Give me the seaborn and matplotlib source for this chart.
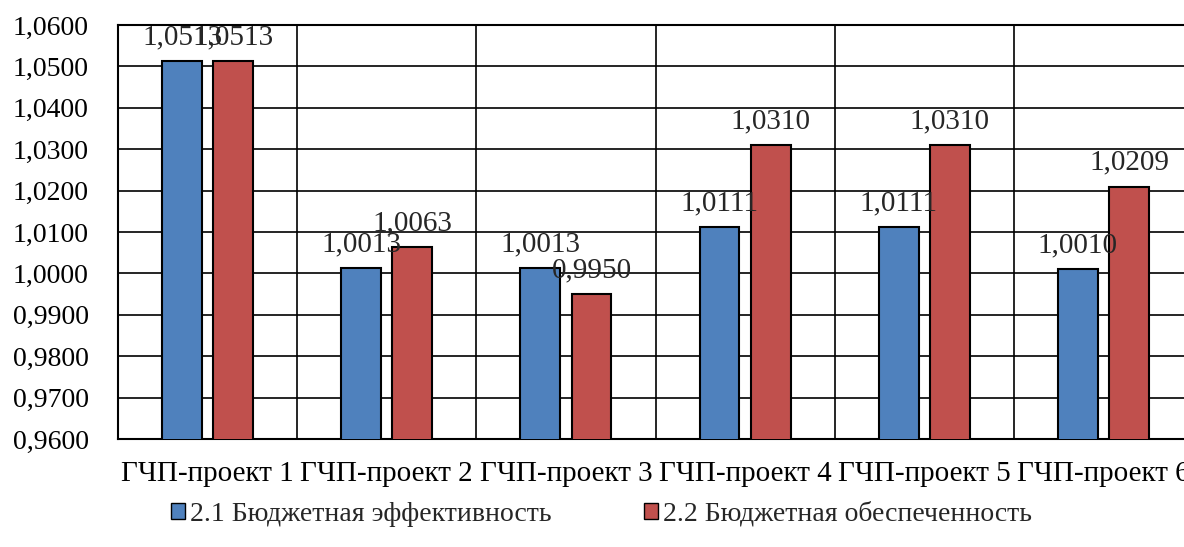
import matplotlib
matplotlib.use('Agg')

import matplotlib.pyplot as plt
import seaborn as sns
import pandas as pd
from matplotlib.patches import Patch

projects = ['ГЧП-проект 1', 'ГЧП-проект 2', 'ГЧП-проект 3',
            'ГЧП-проект 4', 'ГЧП-проект 5', 'ГЧП-проект 6']
series_names = ['2.1 Бюджетная эффективность', '2.2 Бюджетная обеспеченность']
efficiency = [1.0513, 1.0013, 1.0013, 1.0111, 1.0111, 1.0010]
provision = [1.0513, 1.0063, 0.9950, 1.0310, 1.0310, 1.0209]
colors = ['#4F81BD', '#C0504D']

# long format for seaborn
df = pd.DataFrame({
    'Project': projects * 2,
    'Series': [series_names[0]] * len(projects) + [series_names[1]] * len(projects),
    'Value': efficiency + provision,
})

sns.set_style('white')
plt.rcParams['font.family'] = ['Liberation Serif', 'DejaVu Serif']

fig = plt.figure(figsize=(11.84, 5.47), dpi=100)
# plot area runs a bit past the right edge, as in the cropped original
ax = fig.add_axes([118 / 1184, 108 / 547, 1075 / 1184, 414 / 547])

sns.barplot(data=df, x='Project', y='Value', hue='Series', palette=colors,
            saturation=1, width=0.57, gap=0.22, edgecolor='black', linewidth=1.5,
            legend=False, ax=ax, zorder=3)

ax.set_ylim(0.96, 1.06)
ax.set_xlim(-0.5, 5.5)
ax.set_yticks([0.96 + 0.01 * i for i in range(11)])
ax.set_yticklabels([f'{0.96 + 0.01 * i:.4f}'.replace('.', ',') for i in range(11)])
ax.set_xticks(range(len(projects)))
ax.set_xticklabels(projects)
ax.set_xticks([i + 0.5 for i in range(-1, len(projects))], minor=True)
ax.tick_params(axis='both', which='both', length=0, labelsize=20, colors='black')
ax.tick_params(axis='x', pad=16, labelsize=21)
ax.tick_params(axis='y', pad=21)
ax.set_xlabel('')
ax.set_ylabel('')

# grid: horizontal major, vertical at category boundaries
ax.yaxis.grid(True, color='black', linewidth=1.2)
ax.xaxis.grid(True, which='minor', color='black', linewidth=1.2)
ax.xaxis.grid(False, which='major')
ax.set_axisbelow(True)
for s in ax.spines.values():
    s.set_color('black')
    s.set_linewidth(1.5)

# value labels
for container in ax.containers:
    ax.bar_label(container, labels=[f'{b.get_height():.4f}'.replace('.', ',') for b in container],
                 padding=8, fontsize=21)

handles = [Patch(facecolor=c, edgecolor='black', linewidth=1) for c in colors]
fig.legend(handles, series_names, loc='center', bbox_to_anchor=(0.508, 0.06), ncol=2,
           frameon=False, fontsize=20, handlelength=0.5, handleheight=0.5,
           handletextpad=0.2, columnspacing=3.3)

fig.savefig('out.png', dpi=100)
